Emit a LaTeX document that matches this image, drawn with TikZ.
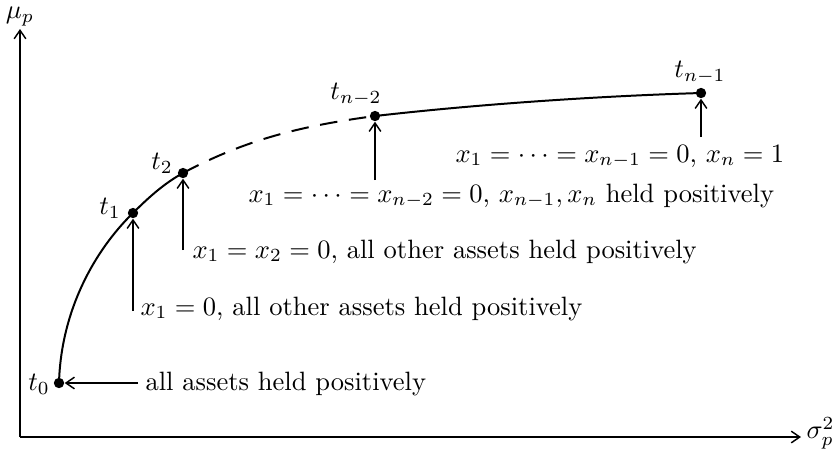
\documentclass[tikz,border=0pt]{standalone}
\usetikzlibrary{arrows.meta}
\begin{document}
\begin{tikzpicture}[x=0.377pt,y=-0.377pt,
  arr/.style={-{Straight Barb[length=3.2pt,width=4.4pt]}, line width=0.55pt},
  dot/.style={circle, fill, inner sep=0pt, minimum size=3.9pt},
  lbl/.style={inner sep=0pt},
  curve/.style={line width=0.75pt},
  txt/.style={inner sep=0pt, anchor=base west}]
\useasboundingbox (0,0) rectangle (832,459);
% axes
\coordinate (O) at (20,437);
\coordinate (Y) at (20,29);
\coordinate (X) at (801,437);
\draw[arr] (O) -- (Y);
\draw[arr] (O) -- (X);
\node[lbl] (mu) at (20,17) {$\mu_p$};
\node[lbl, anchor=west] (sig) at (806,433) {$\sigma^2_p$};
% points
\node[dot] (t0) at (59,383) {};
\node[dot] (t1) at (133,213) {};
\node[dot] (t2) at (183,173) {};
\node[dot] (tn2) at (375,116) {};
\node[dot] (tn1) at (701,93) {};
% curve
\draw[curve] (t0.center) .. controls (61,310) and (95,250) .. (t1.center)
  .. controls (150,196) and (165,183) .. (t2.center);
\draw[curve, dash pattern=on 6.6pt off 4.4pt] (t2.center) .. controls (245,140) and (300,126) .. (tn2.center);
\draw[curve] (tn2.center) .. controls (480,104) and (600,96) .. (tn1.center);
% point labels
\node[lbl] (l0) at (39,384) {$t_0$};
\node[lbl] (l1) at (110,208) {$t_1$};
\node[lbl] (l2) at (162,163) {$t_2$};
\node[lbl] (ln2) at (356,94) {$t_{n-2}$};
\node[lbl] (ln1) at (700,72) {$t_{n-1}$};
% annotations
\node[txt] (a0) at (145,390) {all assets held positively};
\coordinate (c0) at (138,383);
\draw[arr] (c0) -- (t0);
\node[txt] (a1) at (140,315) {$x_1=0$, all other assets held positively};
\coordinate (c1) at (133,311);
\draw[arr] (c1) -- (t1);
\node[txt] (a2) at (192,258) {$x_1=x_2=0$, all other assets held positively};
\coordinate (c2) at (183,250);
\draw[arr] (c2) -- (t2);
\node[txt] (a3) at (248,202) {$x_1=\cdots=x_{n-2}=0$, $x_{n-1},x_n$ held positively};
\coordinate (c3) at (375,180);
\draw[arr] (c3) -- (tn2);
\node[txt] (a4) at (455,162) {$x_1=\cdots=x_{n-1}=0$, $x_n=1$};
\coordinate (c4) at (701,137);
\draw[arr] (c4) -- (tn1);
\end{tikzpicture}
\end{document}
